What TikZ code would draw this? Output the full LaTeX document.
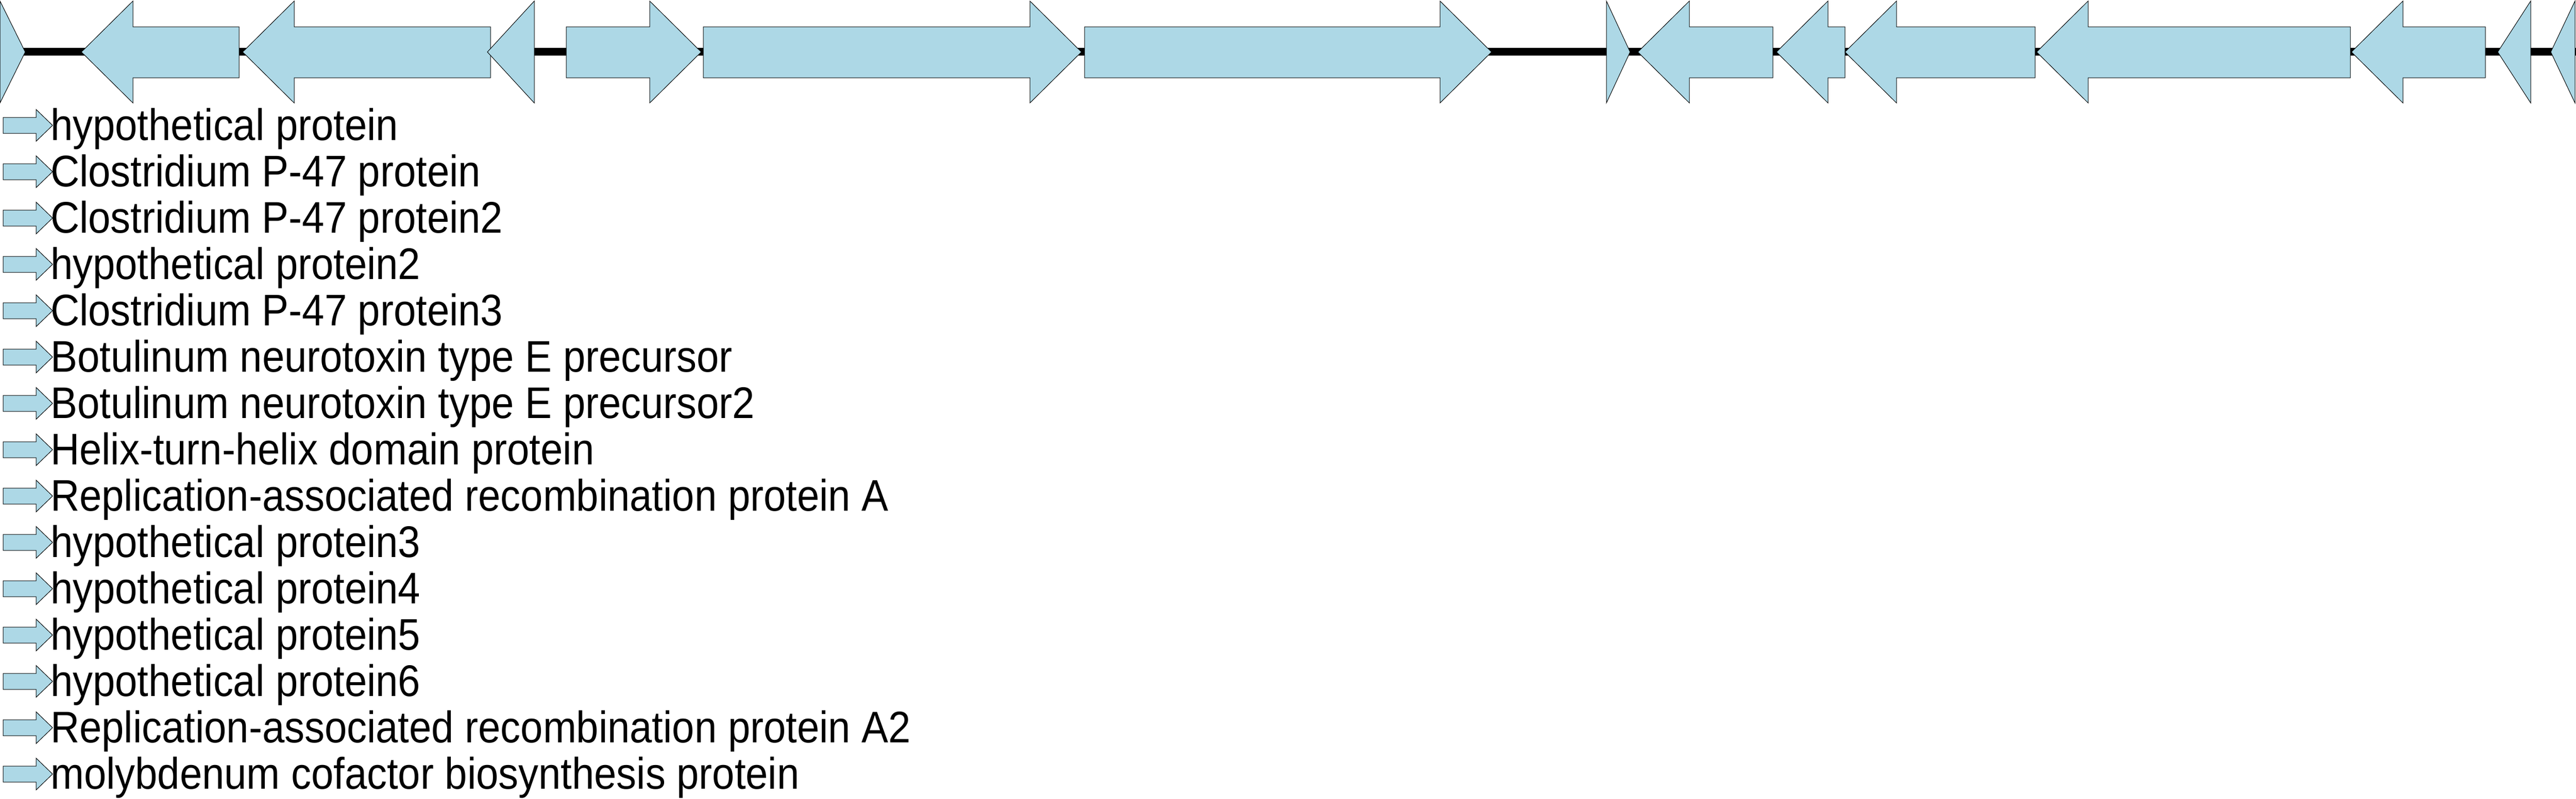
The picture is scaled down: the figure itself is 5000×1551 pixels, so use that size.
\documentclass[tikz,border=0pt]{standalone}
\usepackage{fontspec}
\newfontfamily\labfont{Liberation Sans}[FakeStretch=0.905]
\definecolor{genefill}{HTML}{ADD8E6}
\tikzset{
  gene/.style={fill=genefill, draw=black, line width=1pt, line join=miter},
  backbone/.style={line width=15pt, draw=black},
  legendtext/.style={anchor=base west, inner sep=0pt, font=\labfont\fontsize{86}{90}\selectfont},
}
% right-pointing gene: start, head base, tip
\newcommand{\rgene}[3]{\path[gene] (#1,52) -- (#2,52) -- (#2,2) -- (#3,101) -- (#2,200) -- (#2,151) -- (#1,151) -- cycle;}
% left-pointing gene: tip, head base, end
\newcommand{\lgene}[3]{\path[gene] (#3,52) -- (#2,52) -- (#2,2) -- (#1,101) -- (#2,200) -- (#2,151) -- (#3,151) -- cycle;}
% head-only genes
\newcommand{\rtri}[2]{\path[gene] (#1,2) -- (#2,101) -- (#1,200) -- cycle;}
\newcommand{\ltri}[2]{\path[gene] (#2,2) -- (#1,101) -- (#2,200) -- cycle;}
\begin{document}
\begin{tikzpicture}[x=1pt,y=-1pt]
\useasboundingbox (0,0) rectangle (5000,1551);
% backbone
\coordinate (bbL) at (0,100.5);
\coordinate (bbR) at (5000,100.5);
\draw[backbone] (bbL) -- (bbR);
% genes
\rtri{0}{49}
\lgene{158}{258}{464}
\lgene{471}{571}{952}
\ltri{946}{1037}
\rgene{1099}{1261}{1361}
\rgene{1365}{1999}{2099}
\rgene{2105}{2795}{2895}
\rtri{3118}{3164}
\lgene{3179}{3279}{3441}
\lgene{3448}{3548}{3581}
\lgene{3581}{3681}{3950}
\lgene{3953}{4053}{4562}
\lgene{4564}{4664}{4824}
\ltri{4848}{4912}
\ltri{4951}{4998}
% legend
\foreach \t [count=\i from 0] in {
  hypothetical protein,
  Clostridium P-47 protein,
  Clostridium P-47 protein2,
  hypothetical protein2,
  Clostridium P-47 protein3,
  Botulinum neurotoxin type E precursor,
  Botulinum neurotoxin type E precursor2,
  Helix-turn-helix domain protein,
  Replication-associated recombination protein A,
  hypothetical protein3,
  hypothetical protein4,
  hypothetical protein5,
  hypothetical protein6,
  Replication-associated recombination protein A2,
  molybdenum cofactor biosynthesis protein}{
  \pgfmathsetmacro\cy{243.5+90*\i}
  \path[gene] (6,{\cy-15.5}) -- (70,{\cy-15.5}) -- (70,{\cy-31}) -- (102,\cy) -- (70,{\cy+31}) -- (70,{\cy+15.5}) -- (6,{\cy+15.5}) -- cycle;
  \node[legendtext] (lab\i) at (98,{\cy+29}) {\t};
}
\end{tikzpicture}
\end{document}
